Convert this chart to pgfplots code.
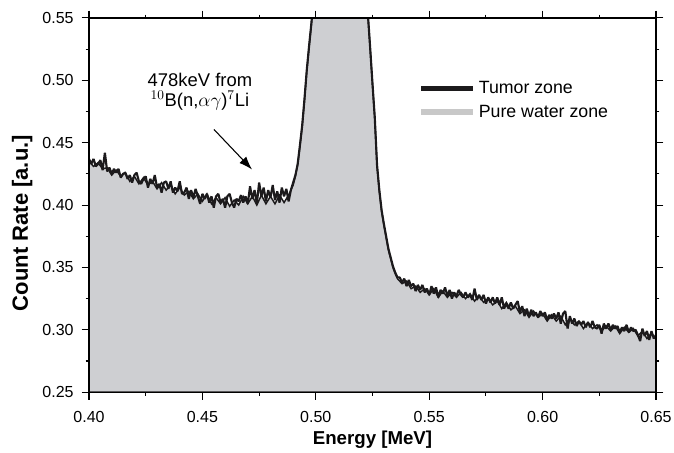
\documentclass[border=0pt]{standalone}
\usepackage{pgfplots}
\pgfplotsset{compat=1.18}
\usetikzlibrary{arrows.meta}
\usepackage{fontspec}
\setmainfont{Liberation Sans}
\definecolor{fillgray}{RGB}{206,207,210}
\definecolor{leggray}{RGB}{200,200,200}
\definecolor{curve}{RGB}{28,26,28}

\pgfplotstableread{
x y
0.400 0.437
0.401 0.433
0.402 0.437
0.403 0.431
0.404 0.433
0.405 0.436
0.406 0.428
0.407 0.442
0.408 0.427
0.409 0.430
0.410 0.425
0.411 0.429
0.412 0.426
0.413 0.429
0.414 0.422
0.415 0.425
0.416 0.426
0.417 0.421
0.418 0.424
0.419 0.418
0.420 0.424
0.421 0.426
0.422 0.419
0.423 0.417
0.424 0.421
0.425 0.423
0.426 0.414
0.427 0.421
0.428 0.417
0.429 0.424
0.430 0.414
0.431 0.417
0.432 0.410
0.433 0.418
0.434 0.419
0.435 0.413
0.436 0.419
0.437 0.410
0.438 0.414
0.439 0.411
0.440 0.419
0.441 0.409
0.442 0.410
0.443 0.414
0.444 0.405
0.445 0.412
0.446 0.406
0.447 0.413
0.448 0.407
0.449 0.401
0.450 0.409
0.451 0.405
0.452 0.409
0.453 0.402
0.454 0.407
0.455 0.398
0.456 0.407
0.457 0.409
0.458 0.402
0.459 0.405
0.460 0.398
0.461 0.407
0.462 0.409
0.463 0.402
0.464 0.398
0.465 0.405
0.466 0.403
0.467 0.408
0.468 0.402
0.469 0.407
0.470 0.401
0.471 0.415
0.472 0.405
0.473 0.412
0.474 0.401
0.475 0.418
0.476 0.407
0.477 0.414
0.478 0.403
0.479 0.412
0.480 0.406
0.481 0.416
0.482 0.404
0.483 0.411
0.484 0.402
0.485 0.414
0.486 0.407
0.487 0.413
0.488 0.403
0.489 0.412
0.490 0.418
0.491 0.424
0.492 0.433
0.493 0.448
0.494 0.464
0.495 0.485
0.496 0.508
0.497 0.527
0.498 0.545
0.499 0.565
0.500 0.585
0.505 0.720
0.511 0.780
0.517 0.720
0.522 0.578
0.523 0.552
0.524 0.525
0.525 0.497
0.526 0.470
0.527 0.432
0.528 0.412
0.529 0.396
0.530 0.385
0.531 0.375
0.532 0.365
0.533 0.358
0.534 0.351
0.535 0.346
0.536 0.342
0.537 0.342
0.538 0.338
0.539 0.341
0.540 0.335
0.541 0.340
0.542 0.335
0.543 0.337
0.544 0.331
0.545 0.336
0.546 0.332
0.547 0.336
0.548 0.330
0.549 0.333
0.550 0.328
0.551 0.335
0.552 0.329
0.553 0.334
0.554 0.326
0.555 0.332
0.556 0.329
0.557 0.334
0.558 0.327
0.559 0.332
0.560 0.325
0.561 0.330
0.562 0.327
0.563 0.332
0.564 0.328
0.565 0.326
0.566 0.330
0.567 0.326
0.568 0.328
0.569 0.324
0.570 0.333
0.571 0.324
0.572 0.328
0.573 0.324
0.574 0.328
0.575 0.321
0.576 0.326
0.577 0.322
0.578 0.326
0.579 0.321
0.580 0.326
0.581 0.320
0.582 0.326
0.583 0.317
0.584 0.321
0.585 0.317
0.586 0.322
0.587 0.317
0.588 0.320
0.589 0.323
0.590 0.314
0.591 0.319
0.592 0.311
0.593 0.317
0.594 0.311
0.595 0.316
0.596 0.311
0.597 0.314
0.598 0.310
0.599 0.315
0.600 0.311
0.601 0.314
0.602 0.308
0.603 0.312
0.604 0.309
0.605 0.313
0.606 0.309
0.607 0.314
0.608 0.305
0.609 0.313
0.610 0.315
0.611 0.301
0.612 0.311
0.613 0.305
0.614 0.309
0.615 0.303
0.616 0.307
0.617 0.304
0.618 0.307
0.619 0.302
0.620 0.306
0.621 0.302
0.622 0.307
0.623 0.302
0.624 0.301
0.625 0.304
0.626 0.297
0.627 0.305
0.628 0.301
0.629 0.305
0.630 0.300
0.631 0.304
0.632 0.301
0.633 0.303
0.634 0.298
0.635 0.302
0.636 0.299
0.637 0.304
0.638 0.298
0.639 0.302
0.640 0.299
0.641 0.300
0.642 0.296
0.643 0.291
0.644 0.301
0.645 0.295
0.646 0.299
0.647 0.292
0.648 0.299
0.649 0.293
0.650 0.296
}\tumor

\pgfplotstableread{
x y
0.400 0.435
0.402 0.431
0.404 0.434
0.406 0.429
0.408 0.430
0.410 0.424
0.412 0.428
0.414 0.423
0.416 0.426
0.418 0.419
0.420 0.423
0.422 0.417
0.424 0.422
0.426 0.416
0.428 0.419
0.430 0.413
0.432 0.418
0.434 0.412
0.436 0.416
0.438 0.409
0.440 0.414
0.442 0.408
0.444 0.411
0.446 0.405
0.448 0.409
0.450 0.403
0.452 0.409
0.454 0.401
0.456 0.406
0.458 0.401
0.460 0.406
0.462 0.399
0.464 0.404
0.466 0.400
0.468 0.407
0.470 0.401
0.472 0.407
0.474 0.400
0.476 0.408
0.478 0.401
0.480 0.407
0.482 0.401
0.484 0.408
0.486 0.402
0.488 0.408
0.490 0.416
0.491 0.423
0.492 0.432
0.493 0.447
0.494 0.463
0.495 0.484
0.496 0.507
0.497 0.526
0.498 0.544
0.499 0.564
0.500 0.584
0.505 0.720
0.511 0.750
0.517 0.720
0.522 0.577
0.523 0.551
0.524 0.524
0.525 0.496
0.526 0.469
0.527 0.431
0.528 0.411
0.529 0.395
0.530 0.384
0.531 0.374
0.532 0.364
0.533 0.357
0.534 0.350
0.535 0.345
0.536 0.341
0.538 0.337
0.540 0.339
0.542 0.333
0.544 0.335
0.546 0.330
0.548 0.333
0.550 0.328
0.552 0.333
0.554 0.326
0.556 0.331
0.558 0.326
0.560 0.330
0.562 0.326
0.564 0.330
0.566 0.325
0.568 0.329
0.570 0.323
0.572 0.327
0.574 0.322
0.576 0.325
0.578 0.320
0.580 0.323
0.582 0.317
0.584 0.322
0.586 0.316
0.588 0.319
0.590 0.313
0.592 0.316
0.594 0.310
0.596 0.315
0.598 0.310
0.600 0.313
0.602 0.307
0.604 0.312
0.606 0.307
0.608 0.311
0.610 0.304
0.612 0.309
0.614 0.304
0.616 0.307
0.618 0.301
0.620 0.306
0.622 0.301
0.624 0.304
0.626 0.299
0.628 0.303
0.630 0.299
0.632 0.303
0.634 0.297
0.636 0.302
0.638 0.298
0.640 0.301
0.642 0.295
0.644 0.299
0.646 0.293
0.648 0.297
0.650 0.293
}\water

\begin{document}
\begin{tikzpicture}
\begin{axis}[
  scale only axis,
  width=425pt, height=280.5pt,
  xmin=0.40, xmax=0.65, ymin=0.25, ymax=0.55,
  xtick={0.40,0.45,...,0.66},
  ytick={0.25,0.30,...,0.56},
  minor x tick num=1, minor y tick num=1,
  tick align=outside,
  major tick length=5.5pt, minor tick length=2.5pt,
  every tick/.style={black, line width=0.8pt},
  axis line style={line width=0.9pt},
  axis on top=true,
  /pgf/number format/assume math mode=true,
  xticklabel style={/pgf/number format/.cd, fixed, fixed zerofill, precision=2, /tikz/.cd, yshift=-5pt},
  yticklabel style={/pgf/number format/.cd, fixed, fixed zerofill, precision=2, /tikz/.cd, xshift=-2.5pt},
  tick label style={font=\fontsize{12}{14}\selectfont},
  xlabel={\textbf{Energy [MeV]}},
  ylabel={\textbf{Count Rate [a.u.]}},
  xlabel style={font=\fontsize{14}{16}\selectfont, at={(rel axis cs:0.5,-0.128)}, anchor=center},
  ylabel style={font=\fontsize{16.5}{19}\selectfont, at={(rel axis cs:-0.118,0.452)}, anchor=center},
  legend style={draw=none, fill=none, at={(rel axis cs:0.58,0.838)}, anchor=north west,
    font=\fontsize{13.3}{15}\selectfont, row sep=3pt, inner sep=0pt},
  legend cell align=left,
  legend image code/.code={\draw[#1] (0cm,0cm) -- (1.37cm,0cm);},
]
\addplot[fill=fillgray, draw=curve, line width=1.1pt, forget plot] table[x=x,y=y] {\water} \closedcycle;
\addplot[curve, line width=1.6pt, line join=bevel, forget plot] table[x=x,y=y] {\tumor};
\addlegendimage{curve, line width=3.6pt}
\addlegendentry{Tumor zone}
\addlegendimage{leggray, line width=4.5pt}
\addlegendentry{Pure water zone}
\node[align=center, font=\fontsize{13.8}{15}\selectfont] at (axis cs:0.4489,0.4905) {478keV from\\$^{10}$B(n,$\alpha\gamma$)$^{7}$Li};
\draw[-{Latex[length=10pt,width=7pt]}, line width=0.8pt] (axis cs:0.4551,0.4606) -- (axis cs:0.4719,0.4285);
\coordinate (bl) at (rel axis cs:-0.157,-0.160);
\coordinate (tr) at (rel axis cs:1.0317,1.048);
\end{axis}
\pgfresetboundingbox
\useasboundingbox (bl) rectangle (tr);
\end{tikzpicture}
\end{document}
